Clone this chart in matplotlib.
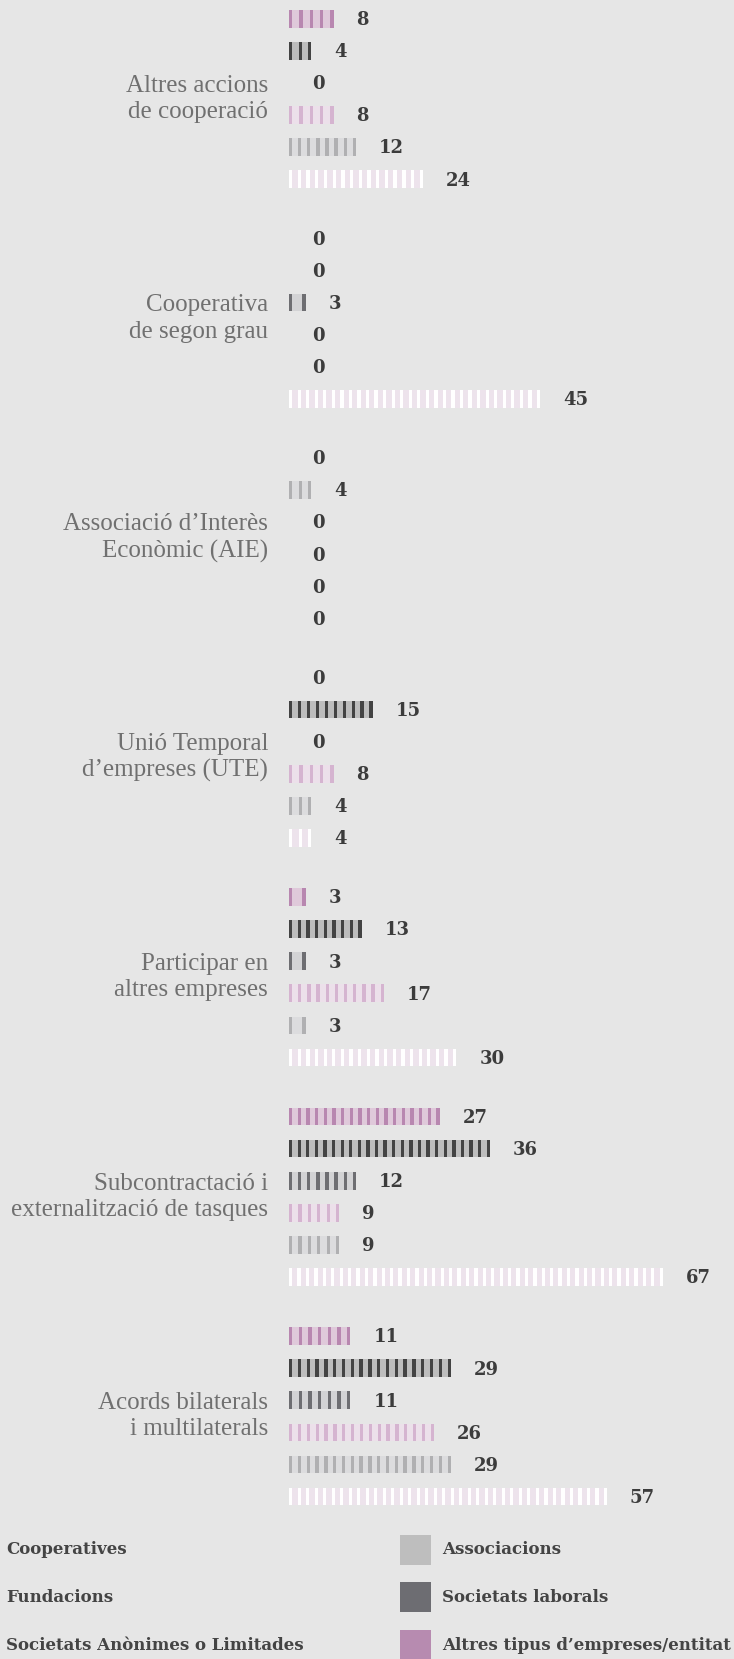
import numpy as np
import matplotlib.pyplot as plt
from matplotlib.patches import Rectangle

# categories (top to bottom) and the six series, same row order in every group
categories = [
    "Altres accions\nde cooperació",
    "Cooperativa\nde segon grau",
    "Associació d’Interès\nEconòmic (AIE)",
    "Unió Temporal\nd’empreses (UTE)",
    "Participar en\naltres empreses",
    "Subcontractació i\nexternalització de tasques",
    "Acords bilaterals\ni multilaterals",
]
altres_tipus = [8, 0, 0, 0, 3, 27, 11]
societats_anonimes = [4, 0, 4, 15, 13, 36, 29]
societats_laborals = [0, 3, 0, 0, 3, 12, 11]
fundacions = [8, 0, 0, 8, 17, 9, 26]
associacions = [12, 0, 0, 4, 3, 9, 29]
cooperatives = [24, 45, 0, 4, 30, 67, 57]

legend_left = ["Cooperatives", "Fundacions", "Societats Anònimes o Limitades"]
legend_right = ["Associacions", "Societats laborals", "Altres tipus d’empreses/entitat"]
legend_right_colors = ["#bebebe", "#6d6d72", "#b78bb0"]

# (background, stripe) for each row of a group
styles = [
    ("#dfc9da", "#b887b0"),
    ("#bdbdbd", "#434343"),
    ("#d3d3d5", "#6e6e72"),
    ("#ece0ea", "#d5b4d0"),
    ("#dcdcde", "#b0b0b2"),
    ("#ede3ec", "#ffffff"),
]
# in the AIE group the second bar is drawn in the light grey style
style_override = {(2, 1): 4}

series = [altres_tipus, societats_anonimes, societats_laborals,
          fundacions, associacions, cooperatives]

BG = "#e6e6e6"
W, H = 734, 1659
fig = plt.figure(figsize=(W / 100, H / 100), dpi=100, facecolor=BG)

# axes: x=0 at pixel 289, 5.58 px per unit; rows 32.1 px apart
x0_px, px_per_unit = 289, 5.58
row_px, first_row_px, ax_bottom_px = 32.1, 18.7, 1520
ax = fig.add_axes([x0_px / W, 1 - ax_bottom_px / H, 1 - x0_px / W, ax_bottom_px / H])
ax.set_facecolor(BG)
ax.set_xlim(0, (W - x0_px) / px_per_unit)
top = -first_row_px / row_px
ax.set_ylim(top + ax_bottom_px / row_px, top)
ax.axis("off")

group_step = 6.84
bar_h = 17.7 / row_px
stripe_w = 3.3 / px_per_unit

for g, cat in enumerate(categories):
    for r, vals in enumerate(series):
        v = vals[g]
        y = g * group_step + r
        bg, st = styles[style_override.get((g, r), r)]
        if v > 0:
            ax.barh(y, v, height=bar_h, color=bg, linewidth=0)
            n = max(1, int(round(v / 1.5)))
            lefts = np.linspace(0, v - stripe_w, n)
            ax.barh([y] * n, stripe_w, left=lefts, height=bar_h, color=st, linewidth=0)
        ax.annotate(str(v), xy=(v, y), xytext=(16.5, -1), textcoords="offset points",
                    ha="left", va="center", fontsize=13, fontweight="bold",
                    family="DejaVu Serif", color="#3c3c3c")
    ax.annotate(cat, xy=(0, g * group_step + 2.5), xytext=(-15, 0),
                textcoords="offset points", ha="right", va="center",
                multialignment="right", fontsize=18, linespacing=1.24,
                family="Liberation Serif", color="#707070", annotation_clip=False)

# legend
rows_px = [1550, 1597, 1645]
for label, yp in zip(legend_left, rows_px):
    fig.text(6 / W, 1 - yp / H, label, ha="left", va="center", fontsize=12,
             fontweight="bold", family="DejaVu Serif", color="#444444")
for label, col, yp in zip(legend_right, legend_right_colors, rows_px):
    fig.add_artist(Rectangle((400 / W, 1 - (yp + 15) / H), 31 / W, 30 / H,
                             transform=fig.transFigure, color=col, linewidth=0))
    fig.text(442 / W, 1 - yp / H, label, ha="left", va="center", fontsize=12,
             fontweight="bold", family="DejaVu Serif", color="#444444")

fig.savefig("out.png", dpi=100, facecolor=BG)
